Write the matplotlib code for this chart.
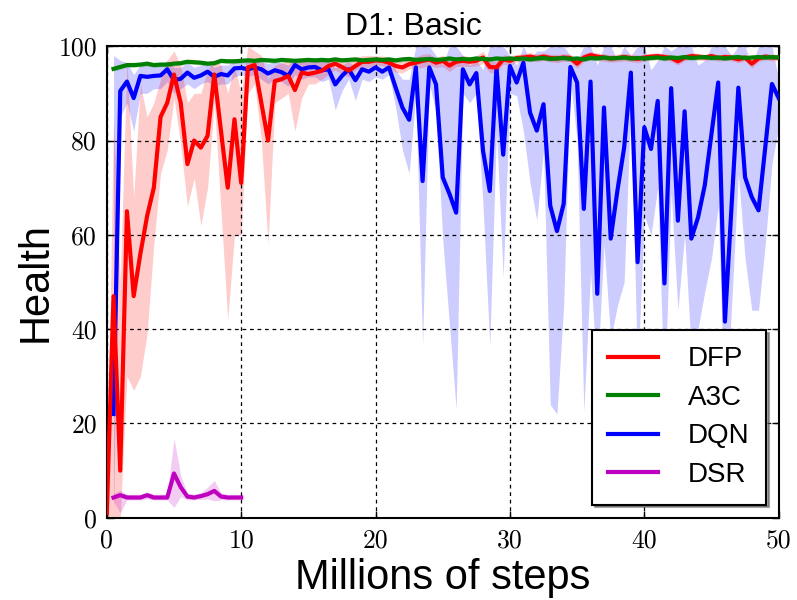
import matplotlib
matplotlib.use('Agg')
import matplotlib.pyplot as plt
import numpy as np

# x positions (millions of steps)
x_dfp = np.arange(0, 50.01, 0.5)
x_all = np.arange(0.5, 50.01, 0.5)
x_dsr = np.arange(0.5, 10.01, 0.5)

dfp = [1, 47, 10, 65, 47, 56, 64, 70, 85, 88,
       94, 88, 75, 80, 78.5, 81, 94, 82, 70, 84.5,
       71, 95.5, 96, 88, 80, 92.6, 93, 93.7, 90.7, 94.4,
       94.1, 94.4, 94.8, 95.8, 96.3, 95.6, 94.8, 95.8, 96.7, 96.7,
       97,
       96.9, 96.5, 95.8, 95.5, 96.2, 96.5, 96.9, 97.2, 96.5, 96.9,
       95.9, 96.7, 96.9, 96.7, 96.9, 97.6, 95.6, 95.5, 97.2, 96.9,
       97.5, 97.6, 97.8, 97.5, 97.8, 97.5, 97.4, 97.6, 97.5, 96.3,
       97.6, 98.1, 97.8, 97.6, 97.4, 97.5, 97.7, 97.5, 97.3, 97.6,
       97.8, 97.9, 97.7, 97.5, 96.8, 97.6, 97.9, 97.8, 97.6, 97.9,
       97.5, 97.7, 97.6, 97.2, 97.6, 96.3, 97.4, 97.8, 97.6, 97.6]
# band for the first 20M steps (x = 0 .. 20)
dfp_lo_early = [0, 0, 0, 30, 27, 30, 39, 58, 73, 78,
                89, 79, 66, 72, 62, 70, 88, 65, 42, 60,
                60, 90, 92, 80, 58, 88, 89, 90, 82, 89,
                92, 92, 93, 94, 95, 94, 93.5, 95, 95.5, 95.5,
                96]
dfp_hi_early = [3, 85, 50, 97, 68, 92, 85, 88, 93, 97,
                99, 96, 88, 90, 90, 95, 97, 96, 90, 96,
                90, 100, 99, 98, 93, 96, 96.5, 97, 97, 97.5,
                97, 97, 97, 97.5, 97.8, 97.5, 96.5, 97.5, 98, 98,
                98]
# half width of band after 20M steps (x = 20.5 .. 50)
dfp_err_late = [1.0, 1.2, 1.3, 1.2, 1.0, 1.2, 1.4, 1.2, 1.0, 1.2,
                1.3, 1.0, 1.2, 1.0, 1.1, 1.3, 1.2, 1.2, 1.0, 1.0,
                0.8, 0.8, 0.9, 0.8, 0.8, 0.8, 0.9, 0.8, 0.8, 1.0,
                0.8, 0.8, 0.8, 0.8, 0.8, 0.8, 0.8, 0.8, 0.8, 0.8,
                0.7, 0.7, 0.7, 0.7, 0.8, 0.7, 0.7, 0.7, 0.7, 0.7,
                0.7, 0.7, 0.7, 0.7, 0.7, 0.9, 0.7, 0.7, 0.7, 0.7]

a3c = [95.2, 95.6, 96.0, 96.0, 96.1, 96.3, 96.0, 96.1, 96.1, 96.3,
       96.4, 96.7, 96.6, 96.5, 96.3, 96.4, 96.9, 96.8, 96.8, 96.9,
       97.0, 96.9, 97.1, 97.0, 96.9, 97.1, 97.0, 96.9, 97.0, 97.1,
       97.0, 97.1, 97.0, 97.2, 97.0, 97.1, 97.2, 97.0, 97.1, 97.2,
       97.1, 97.2, 97.0, 97.2, 97.3, 97.1, 97.2, 97.3, 97.1, 97.2,
       97.4, 97.2, 97.3, 97.2, 97.4, 97.3, 97.2, 97.4, 97.3, 97.4,
       97.3, 97.4, 97.2, 97.4, 97.5, 97.3, 97.4, 97.5, 97.3, 97.4,
       97.2, 97.5, 97.4, 97.6, 97.4, 97.5, 97.6, 97.4, 97.5, 97.4,
       97.5, 97.6, 97.4, 97.6, 97.5, 97.7, 97.5, 97.6, 97.7, 97.5,
       97.6, 97.4, 97.6, 97.7, 97.5, 97.6, 97.7, 97.6, 97.7, 97.6]
a3c_err = 0.5

dqn = [22, 90.5, 92.5, 89, 93.7, 93.5, 93.7, 93.8, 95.1, 92.8,
       93.1, 94.4, 93.3, 93.8, 94.6, 93.5, 94.1, 93.8, 95.3, 95.4,
       95.1, 95.5, 95.1, 94.2, 94.9, 94.5, 93.7, 96.0, 95.1, 95.5,
       95.6, 94.9, 95.1, 91.9, 93.7, 95.1, 92.8, 95.1, 94.6, 95.5,
       94.6, 95.5, 91.2, 87.0, 84.4, 95.5, 71.4, 95.5, 91.9, 72.2,
       68.7, 64.7, 95.1, 91.9, 94.3, 77.8, 69.3, 95.5, 77.0, 95.8,
       92.3, 96.5, 85.9, 82.1, 87.7, 66.2, 60.8, 66.6, 95.6, 92.3,
       65.5, 92.5, 47.5, 87.0, 59.2, 69.4, 78.5, 94.4, 54.2, 82.8,
       78.2, 88.4, 49.7, 91.1, 63.0, 86.2, 59.2, 63.7, 70.5, 81.4,
       92.3, 41.6, 66.4, 91.2, 72.2, 68.0, 65.2, 78.5, 92.0, 89.0]
dqn_lo = [0, 85, 88, 82, 90, 90, 91, 91, 92.5, 90,
          91, 92, 91, 92, 92.5, 91.5, 92, 92, 93.5, 94,
          93.5, 94, 93, 92, 93, 92.5, 91.5, 94, 93, 93.5,
          93.5, 92.5, 93, 86.5, 90.5, 93, 88.5, 93, 92.5, 93.5,
          93, 94, 87, 78, 73, 90, 36.5, 92, 86, 59,
          41, 23, 90, 88, 90, 66, 36.5, 82, 51, 90,
          89.5, 82, 71, 63, 78, 24, 22, 45, 93, 80,
          22.5, 52, 30, 58, 38, 45, 50, 88, 30, 64,
          60, 70, 25, 69, 44, 60, 35, 40, 48, 55,
          66, 20, 45, 73, 55, 44, 44, 58, 75, 83]
dqn_hi = [98, 97, 96.5, 94, 96, 96, 96, 96, 97, 95.5,
          95.5, 96.5, 95.5, 96, 96.5, 95.5, 96, 96, 97, 97,
          96.7, 97, 96.8, 96.3, 96.7, 96.5, 96, 97.5, 96.8, 97,
          97.2, 96.8, 96.8, 95.5, 96, 96.8, 95.5, 96.8, 96.5, 97,
          96.5, 97, 95, 93, 93, 100, 100, 100, 98, 96,
          100, 100, 98, 96, 97, 95, 100, 100, 100, 98,
          96, 100, 97, 99, 99, 100, 100, 100, 98, 97,
          100, 100, 96, 100, 100, 97, 100, 98, 100, 100,
          95, 97, 100, 99, 100, 100, 100, 96, 97, 100,
          100, 100, 98, 100, 100, 96, 100, 100, 100, 93]

dsr = [4.3, 4.8, 4.3, 4.3, 4.3, 4.8, 4.3, 4.3, 4.3, 9.4,
       6.5, 4.5, 4.3, 4.6, 5.0, 5.7, 4.5, 4.3, 4.3, 4.3]
dsr_lo = [3.5, 1.0, 3.8, 3.8, 3.8, 4.0, 3.8, 3.8, 3.8, 2.2,
          4.5, 3.8, 3.8, 3.9, 4.0, 3.6, 3.8, 3.8, 3.8, 3.8]
dsr_hi = [5.2, 5.8, 5.0, 5.0, 5.0, 5.5, 5.0, 5.0, 5.0, 16.9,
          9.0, 5.2, 5.0, 5.3, 6.5, 7.9, 5.3, 5.0, 5.0, 5.0]

dfp = np.array(dfp)
dfp_lo = np.concatenate([dfp_lo_early, dfp[41:] - np.array(dfp_err_late)])
dfp_hi = np.concatenate([dfp_hi_early, dfp[41:] + np.array(dfp_err_late)])
a3c = np.array(a3c)

fig = plt.figure(figsize=(7.97, 6), dpi=100)
ax = fig.add_axes([0.134, 0.137, 0.843, 0.786])

c_dfp, c_a3c, c_dqn, c_dsr = '#ff0000', '#008000', '#0000ff', '#bf00bf'
lw = 3

ax.fill_between(x_all, dqn_lo, dqn_hi, color=c_dqn, alpha=0.2, lw=0)
ax.fill_between(x_dfp, dfp_lo, dfp_hi, color=c_dfp, alpha=0.2, lw=0)
ax.fill_between(x_all, a3c - a3c_err, a3c + a3c_err, color=c_a3c, alpha=0.2, lw=0)
ax.fill_between(x_dsr, dsr_lo, dsr_hi, color=c_dsr, alpha=0.2, lw=0)

ax.plot(x_all, dqn, color=c_dqn, lw=lw, label='DQN', zorder=3)
ax.plot(x_dfp, dfp, color=c_dfp, lw=lw, label='DFP', zorder=4)
ax.plot(x_all, a3c, color=c_a3c, lw=lw, label='A3C', zorder=5)
ax.plot(x_dsr, dsr, color=c_dsr, lw=lw, label='DSR', zorder=5)

ax.set_xlim(0, 50)
ax.set_ylim(0, 100)
ax.set_xticks([0, 10, 20, 30, 40, 50])
ax.set_yticks([0, 20, 40, 60, 80, 100])
ax.grid(True, color='k', ls=(0, (3, 3)), lw=0.9)
ax.tick_params(direction='in', top=True, right=True, length=5, width=1)
ax.tick_params(axis='x', pad=8)
ax.tick_params(axis='y', pad=7)
for lab in ax.get_xticklabels() + ax.get_yticklabels():
    lab.set_family('cmr10')
    lab.set_fontsize(18.5)
for s in ax.spines.values():
    s.set_linewidth(1.5)

ax.set_title('D1: Basic', fontsize=23, family='Liberation Sans', x=0.457, pad=8)
ax.set_xlabel('Millions of steps', fontsize=30, family='Liberation Sans', labelpad=4)
ax.set_ylabel('Health', fontsize=30, family='Liberation Sans', labelpad=2)

h, l = ax.get_legend_handles_labels()
order = [1, 2, 0, 3]
leg = ax.legend([h[i] for i in order], [l[i] for i in order], loc='lower right',
                prop={'family': 'Liberation Sans', 'size': 20}, fancybox=False,
                shadow=True, edgecolor='k', framealpha=1, handlelength=1.8,
                handletextpad=1.05, labelspacing=0.45, borderpad=0.6,
                borderaxespad=0, bbox_to_anchor=(0.981, 0.028))
leg.get_frame().set_linewidth(1.5)

plt.savefig('out.png', dpi=100)
